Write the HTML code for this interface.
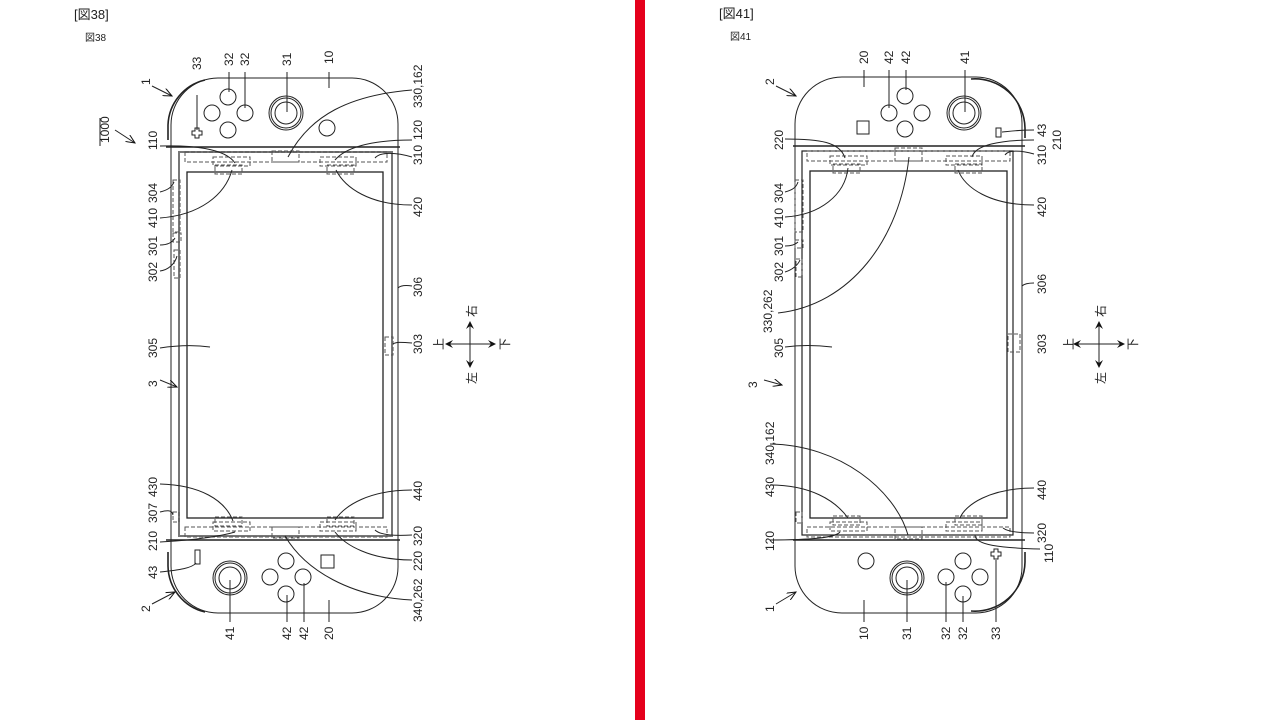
<!DOCTYPE html>
<html><head><meta charset="utf-8"><style>
html,body{margin:0;padding:0;background:#fff;}
svg text{font-family:"Liberation Sans","Noto Sans CJK JP",sans-serif;font-size:12px;fill:#222;}
</style></head><body>
<svg width="1280" height="720" viewBox="0 0 1280 720" xmlns="http://www.w3.org/2000/svg">
<rect width="1280" height="720" fill="#fff"/>
<rect x="635" y="0" width="10" height="720" fill="#e5001c"/>
<defs>
<marker id="ah" markerWidth="8" markerHeight="8" refX="7" refY="4" orient="auto"><path d="M0,0 L8,4 L0,8 L3,4 Z" fill="#111"/></marker>
<marker id="oa" markerWidth="10" markerHeight="8" refX="9" refY="4" orient="auto"><path d="M0,0 L9,4 L0,8" fill="none" stroke="#111" stroke-width="1"/></marker>
</defs>

<!-- ===== LEFT FIGURE 38 ===== -->
<text x="74" y="19" style="font-size:13px">[図38]</text>
<text x="85" y="41" style="font-size:10px">図38</text>
<g fill="none" stroke="#222" stroke-width="1">
<path d="M171,147 V125 A47,47 0 0 1 218,78 H352 A46,46 0 0 1 398,124 V147"/>
<path d="M168,140 V125 A48,48 0 0 1 205,80" stroke-width="1.6"/>
<path d="M171,540 V566 A47,47 0 0 0 218,613 H352 A46,46 0 0 0 398,567 V540"/>
<path d="M168,552 V566 A48,48 0 0 0 205,612" stroke-width="1.6"/>
<line x1="171" y1="147" x2="171" y2="540"/>
<line x1="398" y1="147" x2="398" y2="540"/>
<line x1="166" y1="147" x2="400" y2="147" stroke-width="1.6"/>
<line x1="166" y1="540" x2="400" y2="540" stroke-width="1.6"/>
<rect x="179" y="152" width="213" height="384" stroke="#777" stroke-width="2"/>
<rect x="187" y="172" width="196" height="346" stroke-width="1.3"/>
<g stroke="#555" stroke-dasharray="4,2">
<rect x="185" y="152" width="202" height="10"/>
<rect x="213" y="157" width="37" height="9"/><rect x="215" y="165" width="27" height="9"/>
<rect x="272" y="151" width="27" height="11"/>
<rect x="320" y="157" width="36" height="9"/><rect x="327" y="165" width="27" height="9"/>
<rect x="173" y="180" width="7" height="52"/><rect x="173" y="233" width="8" height="9"/><rect x="174" y="250" width="6" height="28"/>
<rect x="385" y="337" width="8" height="18"/>
<rect x="173" y="512" width="6" height="10"/>
<rect x="185" y="527" width="202" height="10"/>
<rect x="213" y="522" width="37" height="9"/><rect x="215" y="517" width="27" height="9"/>
<rect x="272" y="527" width="27" height="11"/>
<rect x="320" y="522" width="36" height="9"/><rect x="327" y="517" width="27" height="9"/>
</g>
<circle cx="228" cy="97" r="8"/><circle cx="212" cy="113" r="8"/><circle cx="245" cy="113" r="8"/><circle cx="228" cy="130" r="8"/>
<circle cx="286" cy="113" r="17"/><circle cx="286" cy="113" r="15"/><circle cx="286" cy="113" r="11"/>
<circle cx="327" cy="128" r="8"/>
<path d="M195,128 h4 v3 h3 v4 h-3 v3 h-4 v-3 h-3 v-4 h3 z"/>
<circle cx="230" cy="578" r="17"/><circle cx="230" cy="578" r="15"/><circle cx="230" cy="578" r="11"/>
<circle cx="286" cy="561" r="8"/><circle cx="270" cy="577" r="8"/><circle cx="303" cy="577" r="8"/><circle cx="286" cy="594" r="8"/>
<rect x="321" y="555" width="13" height="13"/>
<rect x="195" y="550" width="5" height="14"/>
<path d="M197,95 V130"/><path d="M229,72 V92"/><path d="M245,72 V108"/><path d="M287,72 V112"/><path d="M329,72 V88"/>
<path d="M412,90 C350,95 310,115 288,157"/>
<path d="M160,146 C190,145 225,148 235,163"/>
<path d="M412,140 C370,140 345,148 335,160"/>
<path d="M412,157 C395,152 380,152 375,158"/>
<path d="M160,192 C168,190 172,187 174,182"/>
<path d="M160,218 C200,215 225,195 232,170"/>
<path d="M160,245 C167,245 172,243 175,238"/>
<path d="M160,271 C168,270 175,264 177,256"/>
<path d="M160,348 C180,345 195,345 210,347"/>
<path d="M412,205 C370,205 345,188 336,170"/>
<path d="M412,286 C405,285 400,286 398,288"/>
<path d="M412,343 C400,342 396,342 393,344"/>
<path d="M160,484 C200,485 225,500 233,521"/>
<path d="M160,512 C168,510 172,510 173,515"/>
<path d="M160,542 C200,540 225,535 235,532"/>
<path d="M412,490 C370,490 345,505 335,520"/>
<path d="M412,535 C395,536 380,535 375,530"/>
<path d="M412,560 C370,560 345,545 335,532"/>
<path d="M160,572 C180,570 192,568 196,563"/>
<path d="M412,600 C350,597 305,570 285,536"/>
<path d="M230,622 V580"/><path d="M287,622 V595"/><path d="M304,622 V583"/><path d="M329,622 V600"/>
</g>
<g fill="none" stroke="#222" stroke-width="1">
<path d="M152,86 L172,96" marker-end="url(#oa)"/>
<path d="M115,130 L135,143" marker-end="url(#oa)"/>
<path d="M160,380 L177,387" marker-end="url(#oa)"/>
<path d="M152,604 L175,592" marker-end="url(#oa)"/>
<line x1="100" y1="118" x2="100" y2="146" stroke-width="1"/>
<line x1="470" y1="344" x2="470" y2="322" marker-end="url(#ah)"/>
<line x1="470" y1="344" x2="470" y2="367" marker-end="url(#ah)"/>
<line x1="470" y1="344" x2="446" y2="344" marker-end="url(#ah)"/>
<line x1="470" y1="344" x2="495" y2="344" marker-end="url(#ah)"/>
</g>
<g>
<text transform="translate(201,70) rotate(-90)">33</text>
<text transform="translate(233,66) rotate(-90)">32</text>
<text transform="translate(249,66) rotate(-90)">32</text>
<text transform="translate(291,66) rotate(-90)">31</text>
<text transform="translate(333,64) rotate(-90)">10</text>
<text transform="translate(422,108) rotate(-90)">330,162</text>
<text transform="translate(150,85) rotate(-90)">1</text>
<text transform="translate(109,143) rotate(-90)">1000</text>
<text transform="translate(157,150) rotate(-90)">110</text>
<text transform="translate(422,140) rotate(-90)">120</text>
<text transform="translate(422,165) rotate(-90)">310</text>
<text transform="translate(157,203) rotate(-90)">304</text>
<text transform="translate(157,228) rotate(-90)">410</text>
<text transform="translate(157,256) rotate(-90)">301</text>
<text transform="translate(157,282) rotate(-90)">302</text>
<text transform="translate(422,217) rotate(-90)">420</text>
<text transform="translate(422,297) rotate(-90)">306</text>
<text transform="translate(157,358) rotate(-90)">305</text>
<text transform="translate(422,354) rotate(-90)">303</text>
<text transform="translate(157,387) rotate(-90)">3</text>
<text transform="translate(157,497) rotate(-90)">430</text>
<text transform="translate(157,523) rotate(-90)">307</text>
<text transform="translate(157,551) rotate(-90)">210</text>
<text transform="translate(422,501) rotate(-90)">440</text>
<text transform="translate(422,546) rotate(-90)">320</text>
<text transform="translate(422,571) rotate(-90)">220</text>
<text transform="translate(157,579) rotate(-90)">43</text>
<text transform="translate(150,612) rotate(-90)">2</text>
<text transform="translate(422,622) rotate(-90)">340,262</text>
<text transform="translate(234,640) rotate(-90)">41</text>
<text transform="translate(291,640) rotate(-90)">42</text>
<text transform="translate(308,640) rotate(-90)">42</text>
<text transform="translate(333,640) rotate(-90)">20</text>
<text transform="translate(476,317) rotate(-90)">右</text>
<text transform="translate(476,384) rotate(-90)">左</text>
<text transform="translate(443,350) rotate(-90)">上</text>
<text transform="translate(509,350) rotate(-90)">下</text>
</g>

<!-- ===== RIGHT FIGURE 41 ===== -->
<text x="719" y="18" style="font-size:13px">[図41]</text>
<text x="730" y="40" style="font-size:10px">図41</text>
<g fill="none" stroke="#222" stroke-width="1">
<path d="M795,146 V124 A47,47 0 0 1 842,77 H976 A46,46 0 0 1 1022,123 V146"/>
<path d="M971,79 A50,50 0 0 1 1025,128 V138" stroke-width="1.6"/>
<path d="M795,540 V566 A47,47 0 0 0 842,613 H976 A46,46 0 0 0 1022,567 V540"/>
<path d="M971,611 A50,50 0 0 0 1025,562 V552" stroke-width="1.6"/>
<line x1="795" y1="146" x2="795" y2="540"/>
<line x1="1022" y1="146" x2="1022" y2="540"/>
<line x1="793" y1="146" x2="1025" y2="146" stroke-width="1.6"/>
<line x1="793" y1="540" x2="1025" y2="540" stroke-width="1.6"/>
<rect x="802" y="151" width="211" height="384" stroke-width="1.2"/>
<rect x="810" y="171" width="197" height="347" stroke-width="1.3"/>
<g stroke="#555" stroke-dasharray="4,2">
<rect x="807" y="151" width="203" height="10"/>
<rect x="830" y="156" width="37" height="9"/><rect x="833" y="164" width="27" height="9"/>
<rect x="895" y="148" width="27" height="13"/>
<rect x="946" y="156" width="36" height="9"/><rect x="955" y="164" width="27" height="9"/>
<rect x="795" y="180" width="8" height="52"/><rect x="795" y="240" width="8" height="8"/><rect x="796" y="259" width="6" height="18"/>
<rect x="1008" y="334" width="12" height="18"/>
<rect x="796" y="512" width="6" height="11"/>
<rect x="807" y="527" width="203" height="10"/>
<rect x="830" y="522" width="37" height="9"/><rect x="833" y="516" width="27" height="9"/>
<rect x="895" y="527" width="27" height="12"/>
<rect x="946" y="522" width="36" height="9"/><rect x="955" y="516" width="27" height="9"/>
</g>
<rect x="857" y="121" width="12" height="13"/>
<circle cx="905" cy="96" r="8"/><circle cx="889" cy="113" r="8"/><circle cx="922" cy="113" r="8"/><circle cx="905" cy="129" r="8"/>
<circle cx="964" cy="113" r="17"/><circle cx="964" cy="113" r="15"/><circle cx="964" cy="113" r="11"/>
<rect x="996" y="128" width="5" height="9"/>
<circle cx="866" cy="561" r="8"/>
<circle cx="907" cy="578" r="17"/><circle cx="907" cy="578" r="15"/><circle cx="907" cy="578" r="11"/>
<circle cx="963" cy="561" r="8"/><circle cx="946" cy="577" r="8"/><circle cx="980" cy="577" r="8"/><circle cx="963" cy="594" r="8"/>
<path d="M994,549 h4 v3 h3 v4 h-3 v3 h-4 v-3 h-3 v-4 h3 z"/>
<path d="M864,70 V87"/><path d="M889,70 V108"/><path d="M906,70 V90"/><path d="M965,70 V112"/>
<path d="M785,139 C820,139 840,142 845,158"/>
<path d="M1034,130 C1015,130 1005,132 1002,132"/>
<path d="M1034,154 C1020,150 1008,150 1005,155"/>
<path d="M1034,140 C1000,140 975,145 972,157"/>
<path d="M785,192 C792,190 796,188 798,182"/>
<path d="M785,217 C820,215 845,195 848,168"/>
<path d="M785,246 C792,246 796,244 798,242"/>
<path d="M785,272 C792,270 798,265 800,260"/>
<path d="M778,313 C850,305 900,240 909,157"/>
<path d="M785,347 C800,345 815,345 832,347"/>
<path d="M1034,205 C990,205 965,188 958,170"/>
<path d="M1034,283 C1028,283 1024,284 1022,286"/>
<path d="M770,444 C840,445 895,490 908,535"/>
<path d="M770,485 C810,485 835,500 848,518"/>
<path d="M1034,488 C990,488 965,505 960,518"/>
<path d="M1034,533 C1020,533 1008,532 1003,528"/>
<path d="M770,540 C810,540 835,538 840,532"/>
<path d="M1040,549 C1000,548 975,545 975,535"/>
<path d="M864,622 V600"/><path d="M907,622 V580"/><path d="M946,622 V582"/><path d="M963,622 V596"/><path d="M996,622 V560"/>
</g>
<g fill="none" stroke="#222" stroke-width="1">
<path d="M776,86 L796,96" marker-end="url(#oa)"/>
<path d="M764,380 L782,385" marker-end="url(#oa)"/>
<path d="M776,604 L796,592" marker-end="url(#oa)"/>
<line x1="1099" y1="344" x2="1099" y2="322" marker-end="url(#ah)"/>
<line x1="1099" y1="344" x2="1099" y2="367" marker-end="url(#ah)"/>
<line x1="1099" y1="344" x2="1074" y2="344" marker-end="url(#ah)"/>
<line x1="1099" y1="344" x2="1124" y2="344" marker-end="url(#ah)"/>
</g>
<g>
<text transform="translate(774,85) rotate(-90)">2</text>
<text transform="translate(868,64) rotate(-90)">20</text>
<text transform="translate(893,64) rotate(-90)">42</text>
<text transform="translate(910,64) rotate(-90)">42</text>
<text transform="translate(969,64) rotate(-90)">41</text>
<text transform="translate(783,150) rotate(-90)">220</text>
<text transform="translate(1046,137) rotate(-90)">43</text>
<text transform="translate(1061,150) rotate(-90)">210</text>
<text transform="translate(1046,165) rotate(-90)">310</text>
<text transform="translate(783,203) rotate(-90)">304</text>
<text transform="translate(783,228) rotate(-90)">410</text>
<text transform="translate(783,256) rotate(-90)">301</text>
<text transform="translate(783,282) rotate(-90)">302</text>
<text transform="translate(1046,217) rotate(-90)">420</text>
<text transform="translate(772,333) rotate(-90)">330,262</text>
<text transform="translate(1046,294) rotate(-90)">306</text>
<text transform="translate(783,358) rotate(-90)">305</text>
<text transform="translate(1046,354) rotate(-90)">303</text>
<text transform="translate(757,388) rotate(-90)">3</text>
<text transform="translate(774,465) rotate(-90)">340,162</text>
<text transform="translate(774,497) rotate(-90)">430</text>
<text transform="translate(1046,500) rotate(-90)">440</text>
<text transform="translate(1046,543) rotate(-90)">320</text>
<text transform="translate(774,551) rotate(-90)">120</text>
<text transform="translate(1053,563) rotate(-90)">110</text>
<text transform="translate(774,612) rotate(-90)">1</text>
<text transform="translate(868,640) rotate(-90)">10</text>
<text transform="translate(911,640) rotate(-90)">31</text>
<text transform="translate(950,640) rotate(-90)">32</text>
<text transform="translate(967,640) rotate(-90)">32</text>
<text transform="translate(1000,640) rotate(-90)">33</text>
<text transform="translate(1105,317) rotate(-90)">右</text>
<text transform="translate(1105,384) rotate(-90)">左</text>
<text transform="translate(1073,350) rotate(-90)">上</text>
<text transform="translate(1137,350) rotate(-90)">下</text>
</g>
</svg>
</body></html>
